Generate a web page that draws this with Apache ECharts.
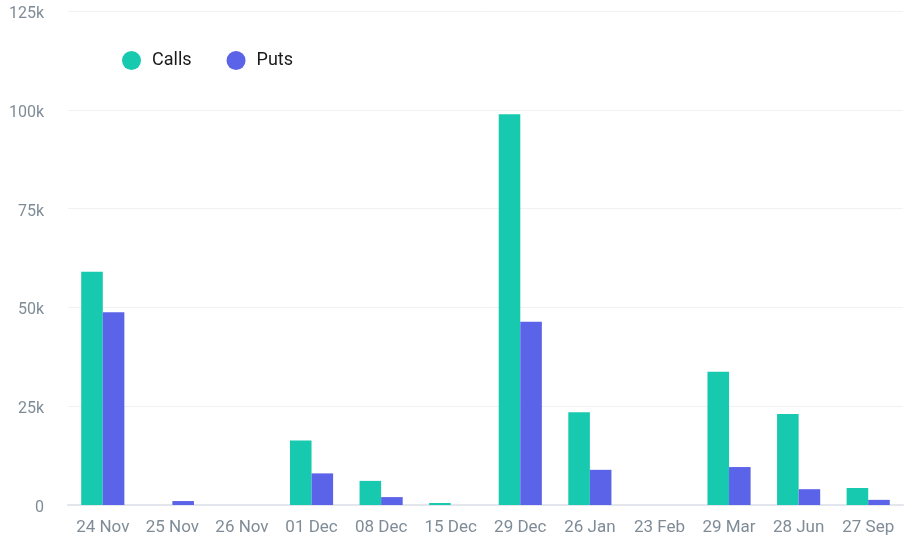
<!DOCTYPE html>
<html><head><meta charset="utf-8">
<script src="https://cdn.jsdelivr.net/npm/echarts@6/dist/echarts.min.js"></script>
<style>html,body{margin:0;padding:0;background:#fff}#c{width:905px;height:547px}</style>
</head><body><div id="c"></div>
<script>
const categories = ['24 Nov','25 Nov','26 Nov','01 Dec','08 Dec','15 Dec','29 Dec','26 Jan','23 Feb','29 Mar','28 Jun','27 Sep'];
const calls = [59000, 0, 0, 16300, 6100, 500, 98900, 23500, 0, 33700, 23000, 4300];
const puts = [48800, 1000, 0, 8000, 2000, 0, 46400, 8900, 0, 9600, 4000, 1300];
const yTicks = [0, 25000, 50000, 75000, 100000, 125000];

const chart = echarts.init(document.getElementById('c'), null, {renderer:'canvas'});
chart.setOption({
  animation:false,
  textStyle:{fontFamily:'Roboto'},
  legend:{
    left:117, top:46, itemWidth:19, itemHeight:19, itemGap:35, icon:'circle',
    textStyle:{fontSize:18, color:'#1a1a1a', fontFamily:'Roboto', padding:[0,0,0,6]},
    data:['Calls','Puts']
  },
  grid:{left:68, right:2, top:11, bottom:42, containLabel:false},
  xAxis:{
    type:'category', data:categories,
    axisLine:{lineStyle:{color:'#e3e6ec', width:2}},
    axisTick:{show:false},
    axisLabel:{color:'#7f8c97', fontSize:17, margin:14, interval:0}
  },
  yAxis:{
    type:'value', min:yTicks[0], max:yTicks[yTicks.length-1], interval:25000,
    axisLine:{show:false}, axisTick:{show:false},
    splitLine:{lineStyle:{color:'#f0f1f4'}},
    axisLabel:{color:'#7f8c97', fontSize:16, margin:24, verticalAlign:'top', lineHeight:6,
      formatter:v=> v===0 ? '0' : (v/1000)+'k'}
  },
  series:[
    {name:'Calls', type:'bar', data:calls, barGap:'0%', barCategoryGap:'38%',
     itemStyle:{color:'#17c9ae'}},
    {name:'Puts', type:'bar', data:puts, barGap:'0%', barCategoryGap:'38%',
     itemStyle:{color:'#5b63e8'}}
  ]
});
</script></body></html>
